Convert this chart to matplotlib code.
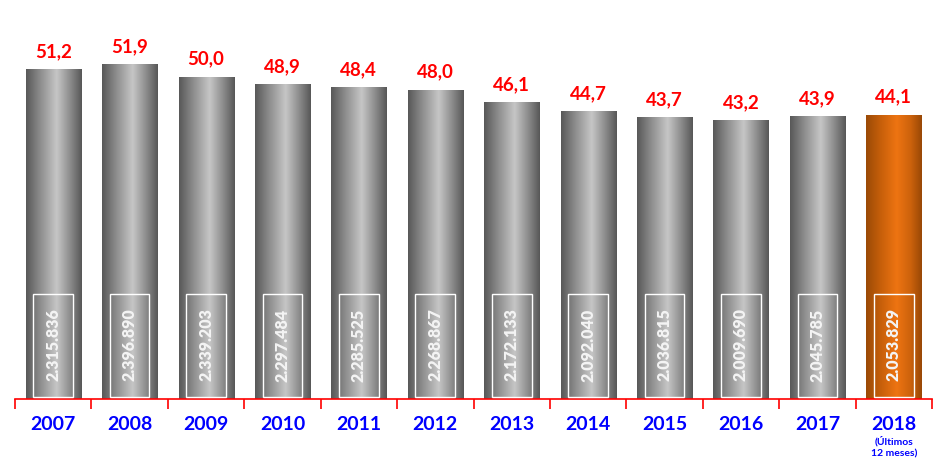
import numpy as np
import matplotlib
matplotlib.use("Agg")
import matplotlib.pyplot as plt
from matplotlib.colors import LinearSegmentedColormap
from matplotlib.patches import Rectangle

years = ["2007", "2008", "2009", "2010", "2011", "2012",
         "2013", "2014", "2015", "2016", "2017", "2018"]
rates = [51.2, 51.9, 50.0, 48.9, 48.4, 48.0, 46.1, 44.7, 43.7, 43.2, 43.9, 44.1]
totals = [2315836, 2396890, 2339203, 2297484, 2285525, 2268867,
          2172133, 2092040, 2036815, 2009690, 2045785, 2053829]
last_note = "(Últimos\n12 meses)"

plt.rcParams['font.family'] = ['Lato', 'DejaVu Sans']

gray_cm = LinearSegmentedColormap.from_list(
    "cyl_gray", [(0, "#585858"), (0.25, "#8c8c8c"), (0.55, "#c6c6c6"),
                 (0.8, "#8a8a8a"), (1, "#575757")])
orange_cm = LinearSegmentedColormap.from_list(
    "cyl_orange", [(0, "#9a4a06"), (0.25, "#c45e0a"), (0.55, "#ee7412"),
                   (0.8, "#cc620c"), (1, "#994806")])

def fmt_thousands(n):
    return f"{n:,}".replace(",", ".")

fig = plt.figure(figsize=(9.47, 4.62), dpi=100)
ax = fig.add_axes([15 / 947, 63 / 462, 917 / 947, 399 / 462])

bw = 0.72
grad = np.linspace(0, 1, 256).reshape(1, -1)

for i, (r, t) in enumerate(zip(rates, totals)):
    cm = orange_cm if i == len(years) - 1 else gray_cm
    ax.imshow(grad, cmap=cm, extent=[i - bw / 2, i + bw / 2, 0, r],
              aspect="auto", zorder=2, interpolation="bilinear")
    ax.text(i, r + 2.8, f"{r:.1f}".replace(".", ","), ha="center", va="center",
            color="red", fontsize=13.5, fontweight="bold")
    ax.add_patch(Rectangle((i - 0.26, 0.3), 0.52, 16.0, fill=False,
                           edgecolor="white", lw=1.0, zorder=3))
    ax.text(i, 8.4, fmt_thousands(t), rotation=90, ha="center", va="center",
            color="#f4f4f4", fontsize=11.5, fontweight="heavy", zorder=4)
    ax.text(i, -3.9, years[i], ha="center", va="center", color="blue",
            fontsize=14, fontweight="bold", clip_on=False)

ax.text(len(years) - 1, -7.5, last_note, ha="center", va="center",
        color="blue", fontsize=7.5, fontweight="bold", linespacing=1.5,
        clip_on=False)

ax.set_xlim(-0.5, len(years) - 0.5)
ax.set_ylim(0, 62)
for s in ["top", "left", "right"]:
    ax.spines[s].set_visible(False)
ax.spines["bottom"].set_color("red")
ax.spines["bottom"].set_linewidth(1.2)
ax.set_yticks([])
ax.set_xticks(np.arange(-0.5, len(years)))
ax.set_xticklabels([])
ax.tick_params(axis="x", colors="red", length=7, width=1.2, direction="out")
ax.patch.set_alpha(0)

fig.savefig("out.png", dpi=100)
